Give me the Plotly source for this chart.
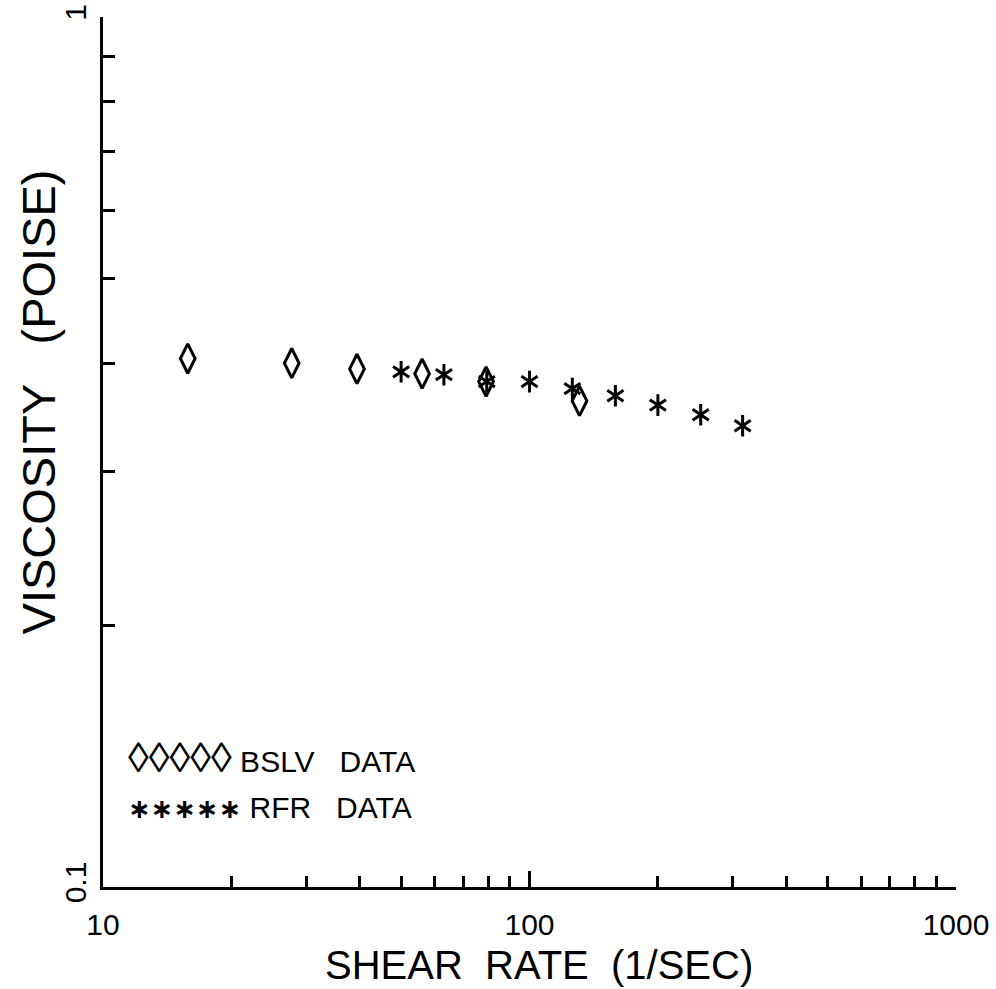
import plotly.graph_objects as go

# BSLV data (diamonds)
bslv_rate = [15.8, 27.7, 39.4, 56.0, 79.1, 131.0]
bslv_visc = [0.405, 0.400, 0.394, 0.389, 0.381, 0.362]

# RFR data (asterisks)
rfr_rate = [50.0, 63.0, 79.4, 100.0, 126.0, 159.0, 200.0, 252.0, 316.0]
rfr_visc = [0.391, 0.388, 0.381, 0.381, 0.374, 0.367, 0.358, 0.349, 0.339]

x_major = [10, 100, 1000]
x_major_text = ["10", "100", "1000"]
x_minor = [20, 30, 40, 50, 60, 70, 80, 90, 200, 300, 400, 500, 600, 700, 800, 900]
y_major = [0.1, 1]
y_major_text = ["0.1", "1"]
y_minor = [0.2, 0.3, 0.4, 0.5, 0.6, 0.7, 0.8, 0.9]

FONT = "Liberation Sans"
BLACK = "#000000"

fig = go.Figure()
fig.add_trace(go.Scatter(
    x=bslv_rate, y=bslv_visc, mode="markers",
    marker=dict(symbol="diamond-tall-open", size=21, color=BLACK,
                line=dict(color=BLACK, width=3)),
    showlegend=False))
for sym in ["y-up-open", "y-down-open"]:
    fig.add_trace(go.Scatter(
        x=rfr_rate, y=rfr_visc, mode="markers",
        marker=dict(symbol=sym, size=13.5, color=BLACK,
                    line=dict(color=BLACK, width=3)),
        showlegend=False))

fig.update_xaxes(
    type="log", range=[1, 3], showgrid=False, zeroline=False, automargin=False,
    showline=True, linecolor=BLACK, linewidth=3, mirror=False,
    tickmode="array", tickvals=x_major, ticktext=x_major_text,
    ticks="inside", ticklen=16, tickwidth=2.5, tickcolor=BLACK,
    ticklabelstandoff=9,
    tickfont=dict(family=FONT, size=30, color=BLACK),
    minor=dict(tickmode="array", tickvals=x_minor, ticks="inside",
               ticklen=11, tickwidth=2.5, tickcolor=BLACK, showgrid=False),
)
fig.update_yaxes(
    type="log", range=[-1, 0], showgrid=False, zeroline=False, automargin=False,
    showline=True, linecolor=BLACK, linewidth=3, mirror=False,
    tickmode="array", tickvals=y_major, ticktext=y_major_text,
    ticks="inside", ticklen=17, tickwidth=2.5, tickcolor=BLACK,
    tickangle=-90, ticklabelstandoff=2,
    tickfont=dict(family=FONT, size=30, color=BLACK),
    minor=dict(tickmode="array", tickvals=y_minor, ticks="inside",
               ticklen=12, tickwidth=2.5, tickcolor=BLACK, showgrid=False),
)

NB = "\u00a0"
annotations = [
    dict(text="SHEAR" + NB + " RATE" + NB + " (1/SEC)",
         xref="paper", yref="paper", x=0.511, y=0, yshift=-78,
         xanchor="center", yanchor="middle", showarrow=False,
         font=dict(family=FONT, size=40, color=BLACK)),
    dict(text="VISCOSITY" + NB + NB + " (POISE)", textangle=-90,
         xref="paper", yref="paper", x=0, xshift=-65, y=0.557,
         xanchor="center", yanchor="middle", showarrow=False,
         font=dict(family=FONT, size=47, color=BLACK)),
    dict(text="<span style='font-size:42px'>◊◊◊◊◊</span> BSLV" + NB + NB + " DATA",
         xref="paper", yref="paper", x=0.027, y=0.149,
         xanchor="left", yanchor="middle", showarrow=False,
         font=dict(family=FONT, size=30, color=BLACK)),
    dict(text="<span style='font-family:DejaVu Sans;font-size:27px'><b>∗∗∗∗∗</b></span> RFR" + NB + NB + " DATA",
         xref="paper", yref="paper", x=0.027, y=0.091,
         xanchor="left", yanchor="middle", showarrow=False,
         font=dict(family=FONT, size=30, color=BLACK)),
]

fig.update_layout(
    width=996, height=989,
    margin=dict(l=103, r=40, t=17, b=102),
    paper_bgcolor="white", plot_bgcolor="white",
    annotations=annotations,
)

fig.write_html("out.html", config={"displayModeBar": False},
               post_script="document.body.style.margin='0';")
